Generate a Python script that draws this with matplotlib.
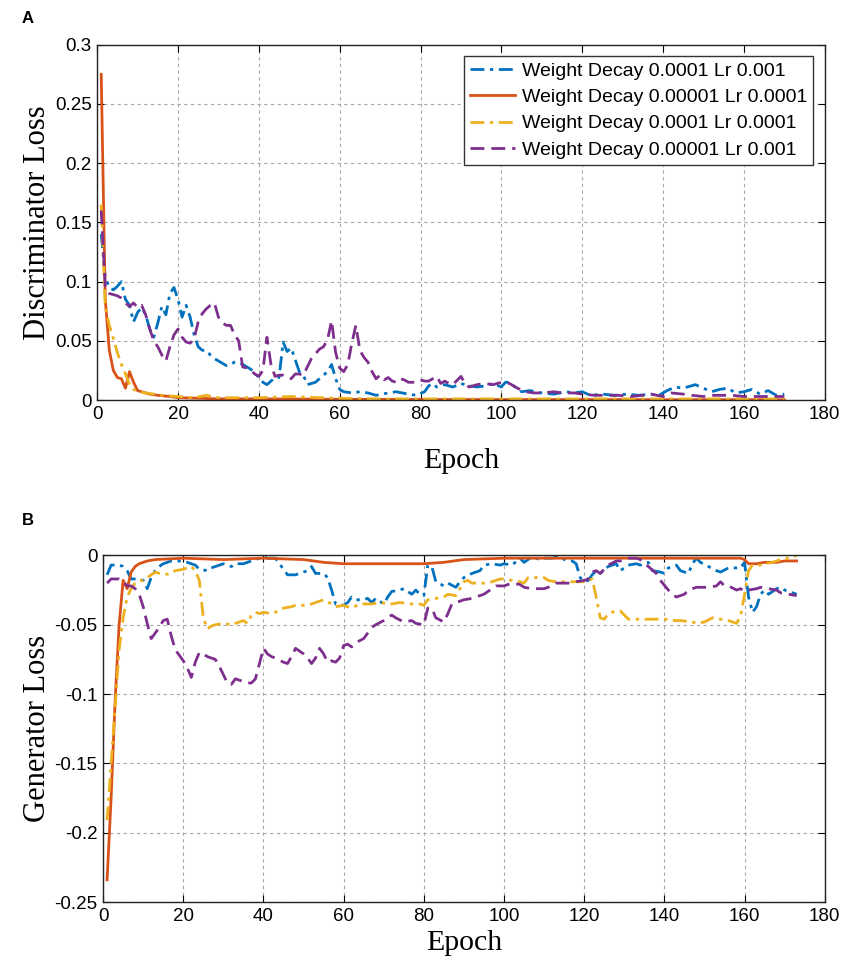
import matplotlib
matplotlib.use("Agg")
import matplotlib.pyplot as plt
from matplotlib import font_manager

# ---------------- data ----------------
labels = ["Weight Decay 0.0001 Lr 0.001",
          "Weight Decay 0.00001 Lr 0.0001",
          "Weight Decay 0.0001 Lr 0.0001",
          "Weight Decay 0.00001 Lr 0.001"]

# Panel A : discriminator loss
dA_blue_x = [1, 2, 3, 4, 5, 6, 7, 8, 9, 10, 11, 12, 13, 14, 15, 16, 17, 18, 19, 20,
             21, 22, 23, 24, 25, 26, 27, 28, 29, 30, 31, 32, 33, 34, 35, 36, 37, 38, 39, 40,
             41, 42, 43, 44, 45, 46, 47, 48, 49, 50, 51, 52, 53, 54, 55, 56, 57, 58, 59, 60,
             61, 63, 65, 67, 69, 72, 74, 77, 79, 81, 82, 83, 84, 86, 88, 90, 92, 94, 96, 98,
             100, 101, 102, 103, 105, 107, 110, 113, 116, 118, 120, 122, 125, 128, 131, 134,
             137, 139, 141, 143, 145, 148, 150, 152, 154, 156, 158, 160, 162, 164, 166, 168, 170]
dA_blue_y = [0.140, 0.104, 0.095, 0.093, 0.096, 0.100, 0.085, 0.080, 0.066, 0.074, 0.078, 0.072,
             0.060, 0.053, 0.065, 0.079, 0.072, 0.090, 0.095, 0.085, 0.070, 0.080, 0.070, 0.055,
             0.045, 0.042, 0.042, 0.038, 0.035, 0.033, 0.031, 0.029, 0.030, 0.032, 0.032, 0.030,
             0.028, 0.026, 0.023, 0.019, 0.015, 0.013, 0.016, 0.019, 0.019, 0.049, 0.041, 0.044,
             0.034, 0.024, 0.021, 0.013, 0.014, 0.015, 0.018, 0.021, 0.024, 0.030, 0.018, 0.009,
             0.007, 0.006, 0.007, 0.006, 0.004, 0.006, 0.007, 0.005, 0.004, 0.007, 0.012, 0.014,
             0.011, 0.013, 0.011, 0.014, 0.012, 0.011, 0.012, 0.014, 0.011, 0.015, 0.015, 0.012,
             0.007, 0.008, 0.006, 0.005, 0.007, 0.006, 0.007, 0.004, 0.005, 0.004, 0.005, 0.004,
             0.005, 0.004, 0.008, 0.011, 0.010, 0.013, 0.010, 0.007, 0.009, 0.010, 0.006, 0.007,
             0.009, 0.005, 0.008, 0.004, 0.005]

dA_orange_x = [1, 2, 3, 4, 5, 6, 7, 8, 9, 10, 11, 13, 15, 18, 20, 25, 30, 40, 50, 60, 80,
               100, 120, 140, 160, 170]
dA_orange_y = [0.275, 0.085, 0.042, 0.025, 0.019, 0.018, 0.010, 0.024, 0.015, 0.008, 0.007,
               0.005, 0.004, 0.003, 0.002, 0.0015, 0.001, 0.001, 0.0008, 0.0006, 0.0005,
               0.0004, 0.0004, 0.0003, 0.0003, 0.0003]

dA_yellow_x = [1, 2, 3, 4, 5, 6, 7, 8, 9, 10, 12, 14, 16, 20, 24, 27, 30, 35, 40, 48, 55,
               60, 70, 80, 100, 120, 140, 160, 170]
dA_yellow_y = [0.165, 0.079, 0.063, 0.052, 0.040, 0.030, 0.022, 0.013, 0.009, 0.007, 0.006,
               0.005, 0.004, 0.003, 0.002, 0.004, 0.002, 0.002, 0.002, 0.003, 0.002, 0.0015,
               0.001, 0.001, 0.001, 0.001, 0.001, 0.001, 0.001]

dA_purple_x = [1, 2, 3, 4, 5, 6, 7, 8, 9, 10, 11, 12, 13, 14, 15, 16, 17, 18, 19, 20,
               21, 22, 23, 24, 25, 26, 27, 28, 29, 30, 31, 32, 33, 34, 35, 36, 37, 38, 39, 40,
               41, 42, 43, 44, 45, 46, 47, 48, 49, 50, 51, 52, 53, 54, 55, 56, 57, 58, 59, 60,
               61, 62, 63, 64, 65, 66, 67, 68, 69, 70, 71, 72, 73, 74, 75, 76, 77, 79, 80, 81,
               82, 84, 85, 86, 87, 88, 90, 91, 92, 94, 96, 98, 100, 102, 104, 106, 108, 110,
               113, 115, 118, 120, 123, 126, 129, 132, 135, 137, 140, 142, 145, 147, 150, 152,
               155, 157, 160, 162, 165, 167, 170]
dA_purple_y = [0.160, 0.096, 0.090, 0.089, 0.088, 0.086, 0.082, 0.079, 0.082, 0.078, 0.080,
               0.072, 0.060, 0.050, 0.045, 0.038, 0.033, 0.045, 0.055, 0.060, 0.053, 0.049,
               0.048, 0.052, 0.066, 0.073, 0.077, 0.080, 0.082, 0.070, 0.065, 0.063, 0.063,
               0.055, 0.050, 0.028, 0.027, 0.025, 0.022, 0.020, 0.025, 0.053, 0.030, 0.020,
               0.021, 0.021, 0.020, 0.018, 0.022, 0.022, 0.021, 0.028, 0.035, 0.039, 0.043,
               0.045, 0.051, 0.067, 0.040, 0.027, 0.024, 0.030, 0.048, 0.063, 0.042, 0.036,
               0.032, 0.024, 0.018, 0.021, 0.017, 0.019, 0.016, 0.015, 0.018, 0.017, 0.015,
               0.015, 0.017, 0.016, 0.016, 0.020, 0.014, 0.016, 0.014, 0.013, 0.020, 0.014,
               0.011, 0.013, 0.014, 0.013, 0.015, 0.014, 0.010, 0.007, 0.006, 0.006, 0.007,
               0.006, 0.006, 0.005, 0.004, 0.004, 0.004, 0.003, 0.004, 0.005, 0.003, 0.006,
               0.005, 0.004, 0.003, 0.004, 0.004, 0.004, 0.003, 0.003, 0.003, 0.003, 0.003]

# Panel B : generator loss
gB_blue_x = [1, 2, 3, 4, 5, 6, 7, 8, 9, 10, 11, 12, 13, 14, 15, 17, 19, 21, 23, 24, 26, 27,
             29, 30, 32, 33, 35, 37, 38, 40, 41, 43, 44, 46, 48, 49, 51, 52, 53, 55, 56, 57,
             58, 60, 61, 62, 63, 65, 66, 67, 68, 70, 71, 72, 74, 75, 77, 78, 79, 80, 81, 82,
             83, 85, 86, 88, 89, 90, 92, 94, 95, 97, 99, 100, 102, 104, 105, 107, 109, 110,
             112, 114, 115, 117, 118, 119, 120, 121, 122, 123, 124, 126, 128, 129, 131, 133,
             134, 136, 137, 139, 140, 141, 143, 144, 146, 147, 148, 149, 151, 153, 154, 156,
             158, 159, 160, 161, 162, 163, 164, 165, 166, 168, 169, 170, 171, 173]
gB_blue_y = [-0.014, -0.007, -0.007, -0.007, -0.008, -0.011, -0.017, -0.017, -0.017, -0.018,
             -0.024, -0.016, -0.011, -0.008, -0.006, -0.004, -0.004, -0.005, -0.007, -0.010,
             -0.011, -0.009, -0.007, -0.006, -0.008, -0.006, -0.006, -0.004, -0.003, -0.001,
             -0.002, -0.002, -0.006, -0.014, -0.014, -0.013, -0.011, -0.008, -0.013, -0.013,
             -0.016, -0.025, -0.035, -0.036, -0.034, -0.030, -0.032, -0.032, -0.031, -0.034,
             -0.031, -0.035, -0.030, -0.026, -0.025, -0.024, -0.028, -0.025, -0.028, -0.029,
             -0.007, -0.008, -0.019, -0.022, -0.020, -0.023, -0.019, -0.016, -0.013, -0.011,
             -0.007, -0.006, -0.007, -0.006, -0.007, -0.002, -0.005, -0.001, -0.003, -0.002,
             -0.002, -0.0005, -0.003, -0.004, -0.006, -0.016, -0.019, -0.018, -0.014, -0.011,
             -0.013, -0.008, -0.006, -0.011, -0.007, -0.006, -0.007, -0.005, -0.011, -0.012,
             -0.013, -0.009, -0.007, -0.011, -0.013, -0.006, -0.002, -0.005, -0.008, -0.011,
             -0.012, -0.009, -0.009, -0.009, -0.005, -0.030, -0.041, -0.037, -0.028, -0.025,
             -0.028, -0.024, -0.023, -0.025, -0.026, -0.028]

gB_orange_x = [1, 2, 3, 4, 5, 6, 7, 8, 9, 10, 11, 13, 20, 30, 40, 50, 55, 60, 70, 80, 85,
               90, 100, 110, 120, 140, 159, 160, 161, 163, 165, 168, 170, 173]
gB_orange_y = [-0.234, -0.175, -0.105, -0.050, -0.018, -0.024, -0.012, -0.008, -0.006, -0.005,
               -0.004, -0.003, -0.002, -0.003, -0.002, -0.003, -0.005, -0.006, -0.006, -0.006,
               -0.005, -0.003, -0.002, -0.002, -0.002, -0.002, -0.002, -0.003, -0.006, -0.006,
               -0.005, -0.005, -0.004, -0.004]

gB_yellow_x = [1, 2, 3, 4, 5, 6, 7, 8, 9, 10, 12, 13, 15, 17, 18, 20, 22, 23, 24, 25, 26, 27,
               28, 30, 32, 33, 35, 36, 37, 38, 39, 40, 42, 43, 45, 47, 48, 50, 52, 53, 55, 57,
               58, 60, 62, 64, 67, 69, 72, 74, 77, 79, 80, 81, 83, 85, 86, 88, 89, 90, 91, 92,
               94, 95, 97, 99, 100, 102, 104, 105, 106, 108, 110, 111, 113, 115, 118, 120, 121,
               122, 123, 124, 125, 126, 128, 129, 130, 131, 134, 137, 140, 142, 144, 147, 148,
               150, 152, 154, 156, 158, 159, 160, 161, 162, 164, 165, 167, 168, 170, 171, 173]
gB_yellow_y = [-0.191, -0.150, -0.110, -0.068, -0.045, -0.030, -0.024, -0.020, -0.018, -0.018,
               -0.014, -0.012, -0.014, -0.013, -0.011, -0.010, -0.008, -0.011, -0.018, -0.045,
               -0.053, -0.051, -0.050, -0.049, -0.050, -0.049, -0.047, -0.049, -0.043, -0.041,
               -0.042, -0.041, -0.042, -0.041, -0.038, -0.037, -0.036, -0.036, -0.035, -0.034,
               -0.032, -0.035, -0.037, -0.036, -0.038, -0.035, -0.035, -0.034, -0.035, -0.034,
               -0.035, -0.035, -0.036, -0.032, -0.031, -0.030, -0.028, -0.029, -0.024, -0.019,
               -0.018, -0.020, -0.020, -0.020, -0.019, -0.017, -0.017, -0.018, -0.019, -0.020,
               -0.016, -0.016, -0.016, -0.018, -0.019, -0.019, -0.019, -0.019, -0.018, -0.017,
               -0.030, -0.045, -0.046, -0.042, -0.040, -0.040, -0.043, -0.046, -0.046, -0.046,
               -0.046, -0.047, -0.047, -0.048, -0.049, -0.048, -0.045, -0.046, -0.047, -0.049,
               -0.044, -0.028, -0.011, -0.007, -0.007, -0.006, -0.005, -0.004, -0.002, -0.002,
               0.0]

gB_purple_x = [1, 2, 3, 4, 5, 6, 7, 8, 9, 10, 11, 12, 13, 14, 15, 16, 17, 18, 19, 20, 21, 22,
               23, 24, 25, 26, 27, 28, 29, 30, 31, 32, 33, 34, 35, 36, 37, 38, 39, 40, 41, 42,
               43, 45, 46, 47, 48, 49, 50, 51, 52, 53, 54, 55, 56, 57, 58, 59, 60, 61, 62, 63,
               65, 67, 68, 70, 72, 73, 75, 77, 78, 80, 81, 82, 83, 85, 86, 87, 88, 90, 92, 93,
               95, 97, 98, 100, 102, 104, 105, 107, 110, 112, 113, 115, 117, 118, 120, 121, 122,
               123, 124, 126, 128, 129, 131, 133, 134, 136, 138, 139, 141, 142, 143, 145, 146,
               148, 149, 151, 153, 154, 155, 156, 158, 159, 160, 161, 163, 164, 166, 168, 169,
               171, 173]
gB_purple_y = [-0.020, -0.017, -0.017, -0.017, -0.019, -0.022, -0.022, -0.024, -0.028, -0.037,
               -0.049, -0.060, -0.056, -0.052, -0.047, -0.046, -0.058, -0.068, -0.072, -0.076,
               -0.081, -0.088, -0.077, -0.070, -0.071, -0.073, -0.074, -0.075, -0.080, -0.086,
               -0.092, -0.093, -0.089, -0.090, -0.091, -0.092, -0.092, -0.089, -0.078, -0.067,
               -0.071, -0.073, -0.074, -0.077, -0.078, -0.073, -0.067, -0.069, -0.071, -0.074,
               -0.078, -0.074, -0.067, -0.071, -0.077, -0.076, -0.077, -0.074, -0.065, -0.064,
               -0.066, -0.063, -0.060, -0.052, -0.050, -0.047, -0.043, -0.045, -0.048, -0.047,
               -0.049, -0.050, -0.038, -0.038, -0.045, -0.048, -0.042, -0.035, -0.034, -0.032,
               -0.031, -0.030, -0.028, -0.024, -0.022, -0.022, -0.020, -0.021, -0.023, -0.024,
               -0.024, -0.022, -0.020, -0.020, -0.020, -0.019, -0.018, -0.017, -0.012, -0.011,
               -0.013, -0.007, -0.004, -0.004, -0.002, -0.002, -0.003, -0.008, -0.013, -0.018,
               -0.025, -0.028, -0.030, -0.028, -0.025, -0.023, -0.023, -0.023, -0.022, -0.019,
               -0.022, -0.022, -0.025, -0.024, -0.026, -0.025, -0.024, -0.023, -0.024, -0.025,
               -0.027, -0.028, -0.029]

xticks = [0, 20, 40, 60, 80, 100, 120, 140, 160, 180]
yticksA = [0, 0.05, 0.1, 0.15, 0.2, 0.25, 0.3]
yticklabelsA = ["0", "0.05", "0.1", "0.15", "0.2", "0.25", "0.3"]
yticksB = [-0.25, -0.2, -0.15, -0.1, -0.05, 0]
yticklabelsB = ["-0.25", "-0.2", "-0.15", "-0.1", "-0.05", "0"]

# ---------------- styling ----------------
colors = ["#0072BD", "#D95319", "#EDB120", "#7E2F8E"]
styles = [(0, (5, 2, 1.2, 2)), "-", (0, (5, 2, 1.2, 2)), (0, (5, 2.5))]

installed = {f.name for f in font_manager.fontManager.ttflist}
tick_family = ["Liberation Sans Narrow"] if "Liberation Sans Narrow" in installed else ["Liberation Sans"]
tick_size = 15 if "Liberation Sans Narrow" in installed else 13.5
serif = ["Liberation Serif"]

fig = plt.figure(figsize=(8.45, 9.71), dpi=100)
axA = fig.add_axes([0.115, 0.588, 0.861, 0.366])
axB = fig.add_axes([0.122, 0.071, 0.854, 0.357])


def style_axis(ax, yticks, yticklabels, ylim, ylabel, xpad):
    ax.set_xlim(0, 180)
    ax.set_ylim(*ylim)
    ax.set_xticks(xticks)
    ax.set_xticklabels([str(t) for t in xticks], family=tick_family, fontsize=tick_size)
    ax.set_yticks(yticks)
    ax.set_yticklabels(yticklabels, family=tick_family, fontsize=tick_size)
    ax.tick_params(direction="in", top=True, right=True, length=5, width=0.8,
                   colors="black", pad=4)
    ax.grid(True, color="#a8a8a8", linestyle=(0, (3, 3)), linewidth=0.8)
    ax.set_axisbelow(True)
    for s in ax.spines.values():
        s.set_linewidth(1.0)
        s.set_color("#222222")
    ax.set_xlabel("Epoch", family=serif, fontsize=21.5, labelpad=xpad)
    ax.set_ylabel(ylabel, family=serif, fontsize=22, labelpad=2)


seriesA = [(dA_blue_x, dA_blue_y), (dA_orange_x, dA_orange_y),
           (dA_yellow_x, dA_yellow_y), (dA_purple_x, dA_purple_y)]
for (x, y), c, ls, lab in zip(seriesA, colors, styles, labels):
    axA.plot(x, y, color=c, linestyle=ls, linewidth=2.0, label=lab)
style_axis(axA, yticksA, yticklabelsA, (0, 0.3), "Discriminator Loss", 18)
leg = axA.legend(loc="upper right", prop={"family": "Liberation Sans", "size": 14},
                 frameon=True, fancybox=False, framealpha=1, edgecolor="#333333",
                 borderaxespad=0.6, handlelength=2.3, handletextpad=0.35,
                 labelspacing=0.45, borderpad=0.3)
leg.get_frame().set_linewidth(1.0)

seriesB = [(gB_blue_x, gB_blue_y), (gB_orange_x, gB_orange_y),
           (gB_yellow_x, gB_yellow_y), (gB_purple_x, gB_purple_y)]
for (x, y), c, ls, lab in zip(seriesB, colors, styles, labels):
    axB.plot(x, y, color=c, linestyle=ls, linewidth=2.0, label=lab)
style_axis(axB, yticksB, yticklabelsB, (-0.25, 0), "Generator Loss", 4)

fig.text(0.026, 0.981, "A", family="Liberation Sans", fontweight="bold", fontsize=12,
         va="center", ha="left")
fig.text(0.026, 0.464, "B", family="Liberation Sans", fontweight="bold", fontsize=12,
         va="center", ha="left")

fig.savefig("out.png", dpi=100)
